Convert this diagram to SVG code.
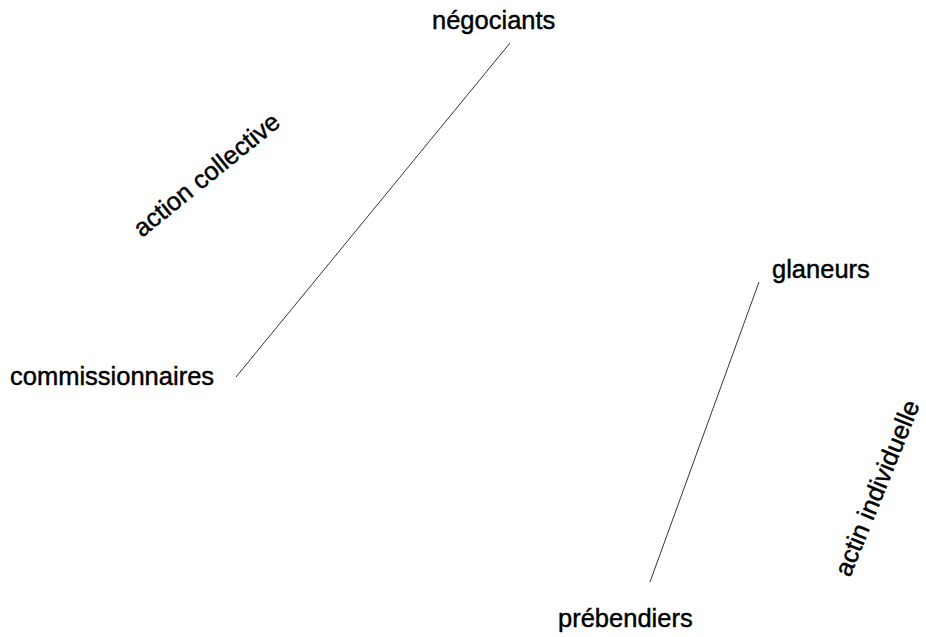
<svg xmlns="http://www.w3.org/2000/svg" width="926" height="637" viewBox="0 0 926 637">
<style>
text{font-family:"Liberation Sans",Arial,sans-serif;font-size:25.5px;fill:#000;stroke:#000;stroke-width:0.45}
.c line{stroke:#000;stroke-width:0.8}
</style>
<rect width="926" height="637" fill="#fff"/>
<g class="c" id="connectors">
<line x1="510" y1="43" x2="236" y2="377"/>
<line x1="759" y1="282" x2="650" y2="582"/>
</g>
<g id="negociants"><text x="432" y="29">négociants</text></g>
<g id="commissionnaires"><text x="10" y="385">commissionnaires</text></g>
<g id="glaneurs"><text x="772" y="278">glaneurs</text></g>
<g id="prebendiers"><text x="558" y="627">prébendiers</text></g>
<g id="action-collective"><text transform="translate(142,238) rotate(-39)">action collective</text></g>
<g id="actin-individuelle"><text transform="translate(850,578) rotate(-68)">actin individuelle</text></g>
</svg>
